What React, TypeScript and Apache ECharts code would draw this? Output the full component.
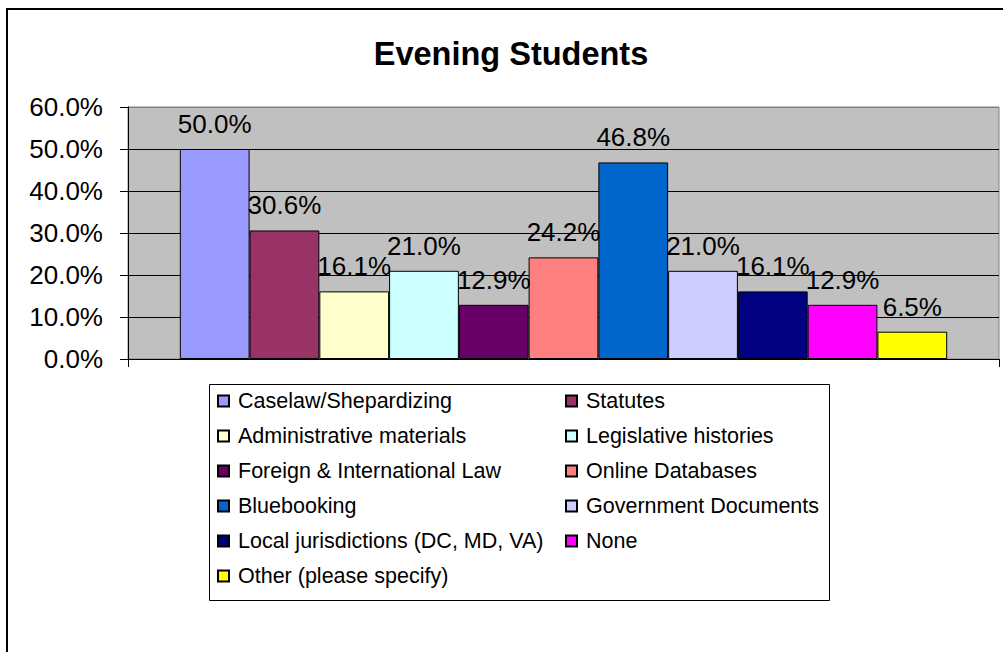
import React, { useEffect, useRef } from "react";
import * as echarts from "echarts";

const categories = [
  "Caselaw/Shepardizing",
  "Statutes",
  "Administrative materials",
  "Legislative histories",
  "Foreign & International Law",
  "Online Databases",
  "Bluebooking",
  "Government Documents",
  "Local jurisdictions (DC, MD, VA)",
  "None",
  "Other (please specify)",
];
const values = [50.0, 30.6, 16.1, 21.0, 12.9, 24.2, 46.8, 21.0, 16.1, 12.9, 6.5];
const colors = [
  "#9999FF", "#993366", "#FFFFCC", "#CCFFFF", "#660066", "#FF8080",
  "#0066CC", "#CCCCFF", "#000080", "#FF00FF", "#FFFF00",
];
const legendCol1 = [
  "Caselaw/Shepardizing",
  "Administrative materials",
  "Foreign & International Law",
  "Bluebooking",
  "Local jurisdictions (DC, MD, VA)",
  "Other (please specify)",
];
const legendCol2 = [
  "Statutes",
  "Legislative histories",
  "Online Databases",
  "Government Documents",
  "None",
];
const yMin = 0;
const yMax = 60;
const yStep = 10;
const titleText = "Evening Students";

const FONT = '"Liberation Sans", Arial, Helvetica, sans-serif';

export default function App() {
  const ref = useRef<HTMLDivElement>(null);
  useEffect(() => {
    if (!ref.current) return;
    const chart = echarts.init(ref.current, null, { renderer: "svg" });
    const legendCommon = {
      orient: "vertical" as const,
      top: 390,
      padding: 0,
      itemWidth: 11,
      itemHeight: 11,
      itemGap: 13,
      icon: "rect",
      selectedMode: false,
      textStyle: {
        fontFamily: FONT,
        fontSize: 21.5,
        color: "#000",
        lineHeight: 22,
        padding: [0, 0, 0, 4],
      },
    };
    chart.setOption({
      animation: false,
      textStyle: { fontFamily: FONT },
      graphic: [
        {
          type: "rect",
          shape: { x: 7, y: 9, width: 1200, height: 900 },
          style: { fill: "none", stroke: "#000", lineWidth: 2 },
          silent: true,
        },
        {
          type: "rect",
          shape: { x: 209.5, y: 384.5, width: 620, height: 216 },
          style: { fill: "#fff", stroke: "#000", lineWidth: 1 },
          silent: true,
          z: -1,
        },
        {
          type: "text",
          x: 511,
          y: 54,
          style: {
            text: titleText,
            font: `bold 32.5px ${FONT}`,
            fill: "#000",
            align: "center",
            verticalAlign: "middle",
          },
          silent: true,
        },
      ],
      legend: [
        { ...legendCommon, left: 217, data: legendCol1 },
        { ...legendCommon, left: 565, data: legendCol2 },
      ],
      grid: {
        left: 128,
        top: 107,
        right: 4,
        bottom: 293,
        show: true,
        backgroundColor: "#C0C0C0",
        borderColor: "#808080",
        borderWidth: 1,
      },
      xAxis: {
        type: "category",
        data: [""],
        axisLine: { show: true, lineStyle: { color: "#000", width: 1 } },
        axisTick: { show: true, length: 8, lineStyle: { color: "#000" } },
        axisLabel: { show: false },
        splitLine: { show: false },
      },
      yAxis: {
        type: "value",
        min: yMin,
        max: yMax,
        interval: yStep,
        axisLine: { show: true, lineStyle: { color: "#000", width: 1 } },
        axisTick: { show: true, length: 8, lineStyle: { color: "#000" } },
        axisLabel: {
          formatter: (v: number) => v.toFixed(1) + "%",
          fontSize: 26,
          color: "#000",
          fontFamily: FONT,
          margin: 25,
        },
        splitLine: {
          show: true,
          lineStyle: {
            color: ["#000", "#000", "#000", "#000", "#000", "#000", "#808080"],
            width: 1,
          },
        },
      },
      series: categories.map((name, i) => ({
        type: "bar",
        name,
        data: [values[i]],
        barGap: "0%",
        barCategoryGap: "11.9%",
        itemStyle: { color: colors[i], borderColor: "#000", borderWidth: 1 },
        label: {
          show: true,
          position: "top",
          distance: 12,
          formatter: (p: any) => Number(p.value).toFixed(1) + "%",
          fontSize: 26,
          color: "#000",
          fontFamily: FONT,
        },
      })),
    });
    return () => chart.dispose();
  }, []);
  return (
    <div
      ref={ref}
      style={{ position: "absolute", left: 0, top: 0, width: 1003, height: 652, background: "#fff" }}
    />
  );
}
